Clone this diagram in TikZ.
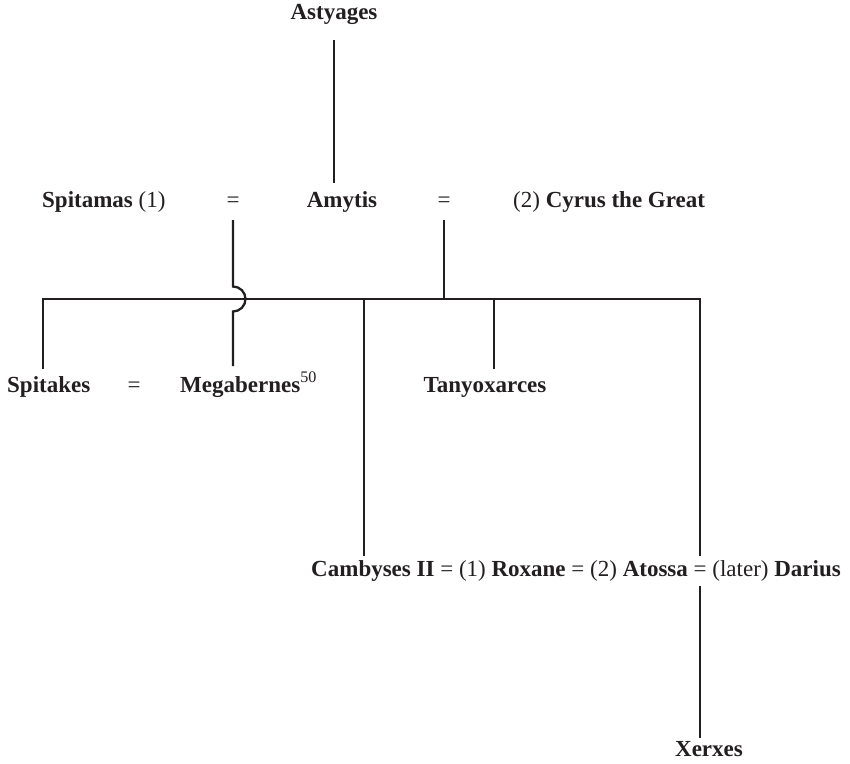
\documentclass[tikz,border=0pt]{standalone}
\usepackage{fontspec}
\setmainfont{Liberation Serif}
\begin{document}
\begin{tikzpicture}[x=1pt,y=-1pt,
  person/.style={font=\fontsize{23}{26}\selectfont\bfseries, inner sep=0pt, anchor=base, text=ink},
  plain/.style={font=\fontsize{23}{26}\selectfont, inner sep=0pt, anchor=base, text=ink},
  link/.style={line width=2.3pt, draw=ink}]
\definecolor{ink}{HTML}{231F20}
\useasboundingbox (0,0) rectangle (850,763);

% generation 1
\node[person] (astyages) at (334,19) {Astyages};

% generation 2
\node[person, anchor=base west] (spitamas) at (42,207) {Spitamas \textmd{(1)}};
\node[plain] (eqL) at (233,207) {=};
\node[person] (amytis) at (342,207) {Amytis};
\node[plain] (eqR) at (444,207) {=};
\node[plain, anchor=base west] (cyrus) at (513,207) {(2) \textbf{Cyrus the Great}};

% generation 3
\node[person, anchor=base west] (spitakes) at (7,392) {Spitakes};
\node[plain] (eqS) at (134,392) {=};
\node[person, anchor=base west] (megabernes) at (180,392)
  {Megabernes\textsuperscript{\textmd{50}}};
\node[person] (tanyox) at (485,392) {Tanyoxarces};
\node[plain] (marriages) at (576,576)
  {\textbf{Cambyses II} = (1) \textbf{Roxane} = (2) \textbf{Atossa} = (later) \textbf{Darius}};

% generation 4
\node[person] (xerxes) at (709,756) {Xerxes};

% junction points
\coordinate (astyB) at (334,40);
\coordinate (amyT) at (334,183);
\coordinate (eqLB) at (233,220);
\coordinate (eqRB) at (444,220);
\coordinate (barL) at (43,299);
\coordinate (barR) at (700,299);
\coordinate (bumpTop) at (233,286.5);
\coordinate (megT) at (233,366);
\coordinate (spkT) at (43,369);
\coordinate (tanT) at (494,369);
\coordinate (camT) at (364,556);
\coordinate (atoT) at (700,556);
\coordinate (atoB) at (700,586);
\coordinate (xerT) at (700,738);

% Astyages -> Amytis
\draw[link] (astyB) -- (amyT);
% Spitamas = Amytis -> Megabernes, hopping over the sibling bar
\draw[link] (eqLB) -- (bumpTop) arc[start angle=-90, end angle=90, radius=12.5] -- (megT);
% Amytis = Cyrus -> children
\draw[link] (eqRB) -- (eqRB |- barL);
\draw[link] (spkT) -- (barL) -- (barR) -- (atoT);
\draw[link] (camT) -- (camT |- barL);
\draw[link] (tanT) -- (tanT |- barL);
% Atossa = Darius -> Xerxes
\draw[link] (atoB) -- (xerT);
\end{tikzpicture}
\end{document}
